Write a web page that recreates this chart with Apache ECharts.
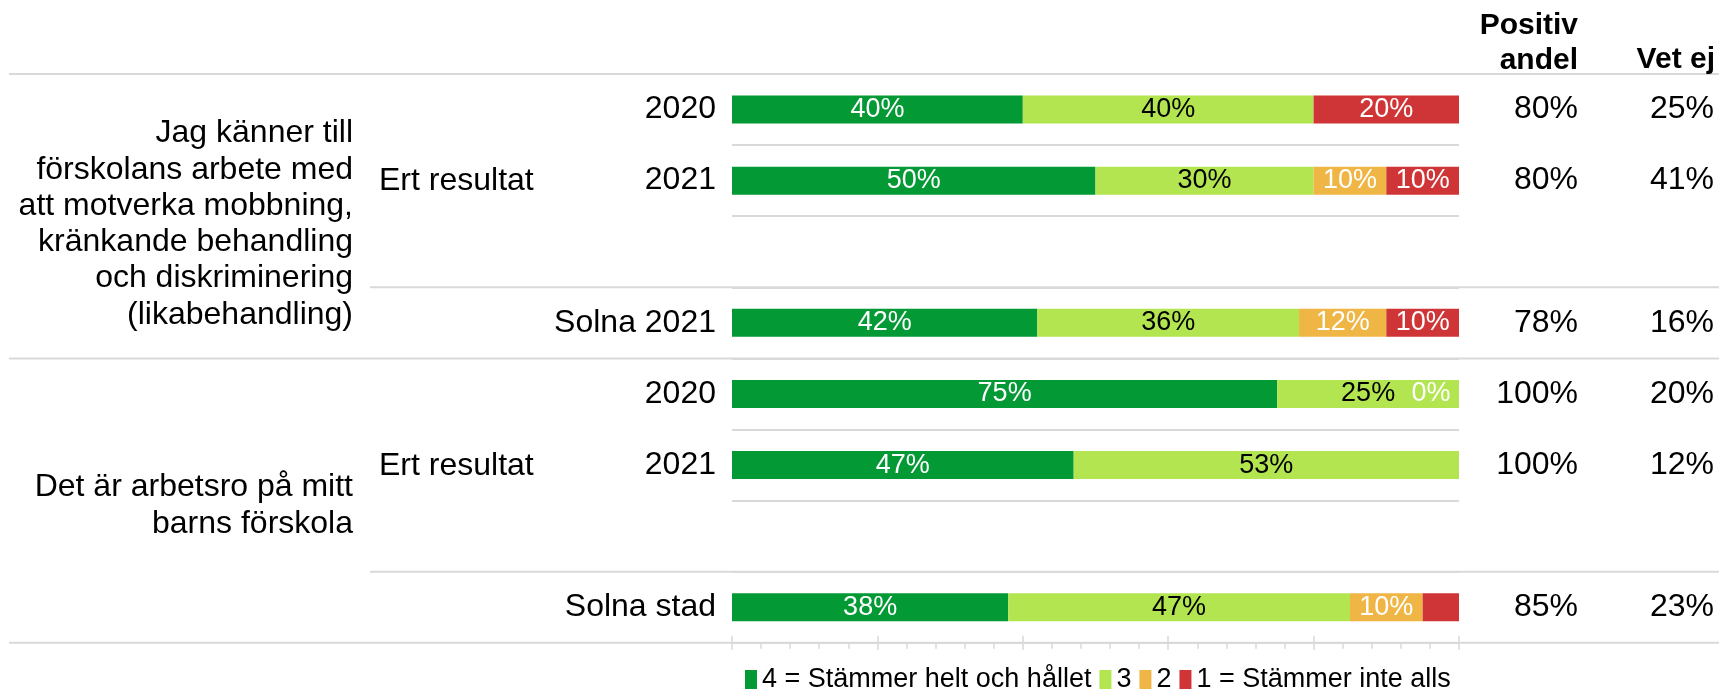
<!DOCTYPE html>
<html><head><meta charset="utf-8">
<script src="https://cdn.jsdelivr.net/npm/echarts@6/dist/echarts.min.js"></script>
<style>html,body{margin:0;padding:0;background:#fff}#c{width:1719px;height:689px}</style>
</head><body><div id="c"></div>
<script>
// ---- data ----
const rowLabels = ['2020', '2021', '', 'Solna 2021', '2020', '2021', '', 'Solna stad'];
const seriesNames = ['4 = Stämmer helt och hållet', '3', '2', '1 = Stämmer inte alls'];
const s4 = [40, 50, null, 42, 75, 47, null, 38];
const s3 = [40, 30, null, 36, 25, 53, null, 47];
const s2 = [null, 10, null, 12, 0, null, null, 10];
const s1 = [20, 10, null, 10, null, null, null, 5];
const positivAndel = ['80%', '80%', '', '78%', '100%', '100%', '', '85%'];
const vetEj = ['25%', '41%', '', '16%', '20%', '12%', '', '23%'];
const questions = [
  'Jag känner till\nförskolans arbete med\natt motverka mobbning,\nkränkande behandling\noch diskriminering\n(likabehandling)',
  'Det är arbetsro på mitt\nbarns förskola'
];
const questionRows = [[0, 3], [4, 7]];
const subGroupLabel = 'Ert resultat';
const subGroupRows = [[0, 1], [4, 5]];
const headerPositiv = 'Positiv\nandel';
const headerVetEj = 'Vet ej';

// ---- style ----
const FONT = '"Liberation Sans", Arial, sans-serif';
const colors = ['#039935', '#b3e550', '#efb545', '#cf3536'];
const labelColors = ['#ffffff', '#000000', '#ffffff', '#ffffff'];
const GRID = { left: 732, right: 260, top: 74, height: 568.8 };
const LINE = '#d9d9d9';
const questionDy = [8, 5];

const chart = echarts.init(document.getElementById('c'), null, { renderer: 'canvas' });
const ids = rowLabels.map((_, i) => 'r' + i);
const allSeries = [s4, s3, s2, s1];

const series = allSeries.map((arr, k) => ({
  name: seriesNames[k],
  type: 'bar',
  stack: 'total',
  barWidth: 28,
  itemStyle: { color: colors[k] },
  label: {
    show: true,
    position: 'inside',
    fontFamily: FONT,
    fontSize: 27,
    color: labelColors[k],
    formatter: p => (p.value == null ? '' : (p.value >= 8 || p.value === 0) ? p.value + '%' : '')
  },
  data: arr.map(v => (v === 0 ? { value: 0, label: { offset: [-28, 0] } } : v))
}));

const option = {
  animation: false,
  backgroundColor: '#fff',
  grid: { left: GRID.left, right: GRID.right, top: GRID.top, height: GRID.height, containLabel: false },
  legend: {
    data: seriesNames,
    left: 745, top: 666,
    padding: 0,
    icon: 'rect',
    itemWidth: 12, itemHeight: 19, itemGap: 8,
    textStyle: { fontFamily: FONT, fontSize: 27, color: '#000' }
  },
  xAxis: [
    {
      type: 'value', min: 0, max: 100, interval: 20,
      axisLine: { show: true, lineStyle: { color: LINE, width: 2 } },
      axisTick: { show: true, length: 6, lineStyle: { color: LINE, width: 1.5 } },
      minorTick: { show: true, splitNumber: 5, length: 6, lineStyle: { color: LINE, width: 1.5 } },
      axisLabel: { show: false },
      splitLine: { show: false }
    },
    {
      type: 'value', min: 0, max: 100, interval: 20, position: 'bottom', offset: -7,
      axisLine: { show: false },
      axisTick: { show: true, length: 14, lineStyle: { color: LINE, width: 1.5 } },
      axisLabel: { show: false },
      splitLine: { show: false }
    }
  ],
  yAxis: [
    {
      type: 'category', data: ids, inverse: true,
      axisLine: { show: false }, axisTick: { show: false },
      splitLine: { show: true, lineStyle: { color: LINE, width: 2 } },
      axisLabel: { margin: 16, fontFamily: FONT, fontSize: 32, color: '#000',
        formatter: (v, i) => rowLabels[i] }
    },
    {
      type: 'category', data: ids, inverse: true, position: 'right',
      axisLine: { show: false }, axisTick: { show: false }, splitLine: { show: false },
      axisLabel: { margin: 119, align: 'right', fontFamily: FONT, fontSize: 32, color: '#000',
        formatter: (v, i) => positivAndel[i] }
    },
    {
      type: 'category', data: ids, inverse: true, position: 'right',
      axisLine: { show: false }, axisTick: { show: false }, splitLine: { show: false },
      axisLabel: { margin: 255, align: 'right', fontFamily: FONT, fontSize: 32, color: '#000',
        formatter: (v, i) => vetEj[i] }
    }
  ],
  series: series
};
chart.setOption(option);

// ---- separators and group labels, placed from the category axis ----
const yc = i => chart.convertToPixel({ yAxisIndex: 0 }, i);
const band = yc(1) - yc(0);
const edgeTop = i => yc(i) - band / 2;
const edgeBottom = i => yc(i) + band / 2;
const W = 1719;
const els = [];
function hline(y, x1, x2) {
  els.push({ type: 'line', silent: true, z: 0,
    shape: { x1: x1, y1: y, x2: x2, y2: y },
    style: { stroke: LINE, lineWidth: 2 } });
}
questionRows.forEach(([a, b], qi) => {
  hline(edgeTop(a), 9, W);
  if (qi === questionRows.length - 1) hline(edgeBottom(b), 9, W);
  hline(edgeTop(b), 370, W);
  els.push({ type: 'text', silent: true,
    style: { x: 353, y: (edgeTop(a) + edgeBottom(b)) / 2 + questionDy[qi], text: questions[qi],
      textAlign: 'right', textVerticalAlign: 'middle',
      font: '32px ' + FONT, lineHeight: 36.3, fill: '#000' } });
});
subGroupRows.forEach(([a, b]) => {
  els.push({ type: 'text', silent: true,
    style: { x: 379, y: yc(b) + 1, text: subGroupLabel,
      textAlign: 'left', textVerticalAlign: 'middle',
      font: '32px ' + FONT, fill: '#000' } });
});
els.push({ type: 'text', silent: true,
  style: { x: 1578, y: 43, text: headerPositiv, textAlign: 'right', textVerticalAlign: 'middle',
    font: 'bold 30px ' + FONT, lineHeight: 35, fill: '#000' } });
els.push({ type: 'text', silent: true,
  style: { x: 1715, y: 60, text: headerVetEj, textAlign: 'right', textVerticalAlign: 'middle',
    font: 'bold 30px ' + FONT, fill: '#000' } });
chart.setOption({ graphic: { elements: els } });
</script>
</body></html>
